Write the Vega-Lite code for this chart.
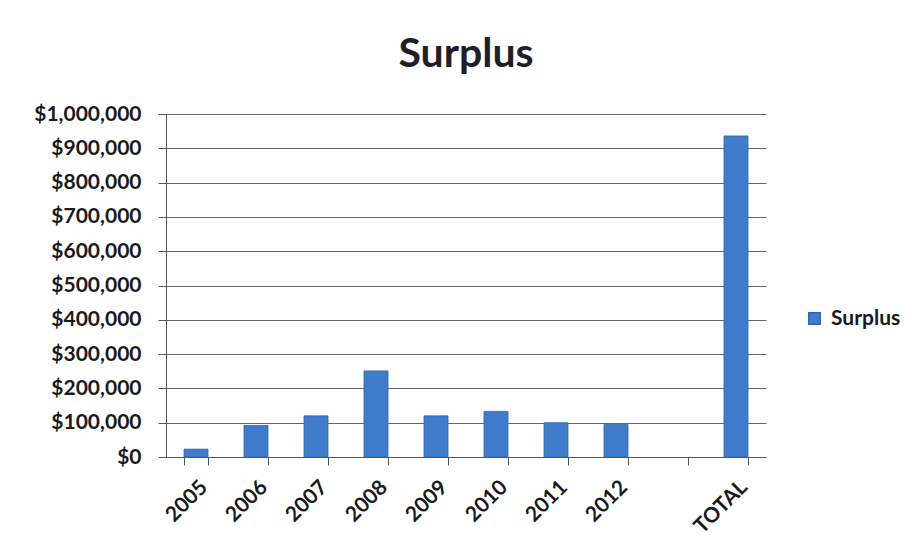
{
  "$schema": "https://vega.github.io/schema/vega-lite/v6.json",
  "autosize": "none",
  "width": 600,
  "height": 343,
  "padding": {"left": 166, "top": 114, "right": 151, "bottom": 98},
  "background": "white",
  "title": {"text": "Surplus", "font": "Lato", "fontSize": 41, "fontWeight": "bold", "color": "#1f1f2a", "anchor": "middle", "offset": 27},
  "data": {"values": [
    {"year": "2005", "surplus": 23000, "series": "Surplus"},
    {"year": "2006", "surplus": 92000, "series": "Surplus"},
    {"year": "2007", "surplus": 120000, "series": "Surplus"},
    {"year": "2008", "surplus": 251000, "series": "Surplus"},
    {"year": "2009", "surplus": 120000, "series": "Surplus"},
    {"year": "2010", "surplus": 133000, "series": "Surplus"},
    {"year": "2011", "surplus": 100000, "series": "Surplus"},
    {"year": "2012", "surplus": 95000, "series": "Surplus"},
    {"year": "TOTAL", "surplus": 936000, "series": "Surplus"}
  ]},
  "mark": {"type": "bar", "stroke": "#2f64b0", "strokeWidth": 0.8},
  "encoding": {
    "x": {"field": "year", "type": "nominal", "title": null,
      "scale": {"domain": ["2005","2006","2007","2008","2009","2010","2011","2012"," ","TOTAL"], "paddingInner": 0.6, "paddingOuter": 0.3},
      "axis": {"labelAngle": -45, "labelAlign": "right", "labelBaseline": "top", "labelFont": "Lato", "labelFontSize": 21, "labelFontWeight": "bold", "labelColor": "#1a1a1a", "labelPadding": 11, "tickBand": "extent", "tickSize": 8, "tickColor": "#555", "domainColor": "#555", "grid": false}},
    "y": {"field": "surplus", "type": "quantitative", "title": null,
      "scale": {"domain": [0, 1000000]},
      "axis": {"values": [0,100000,200000,300000,400000,500000,600000,700000,800000,900000,1000000], "format": "$,.0f", "labelFont": "Lato", "labelFontSize": 21, "labelFontWeight": "bold", "labelColor": "#1a1a1a", "labelPadding": 17, "tickSize": 8, "tickColor": "#555", "domainColor": "#555", "gridColor": "#666", "gridWidth": 1}},
    "color": {"field": "series", "type": "nominal", "scale": {"range": ["#3f7dcc"]},
      "legend": {"title": null, "orient": "none", "legendX": 638, "legendY": 194, "symbolType": "square", "symbolSize": 130, "labelFont": "Lato", "labelFontSize": 21, "labelFontWeight": "bold", "labelColor": "#1a1a1a", "labelOffset": 6}}
  },
  "config": {"view": {"stroke": null}}
}
